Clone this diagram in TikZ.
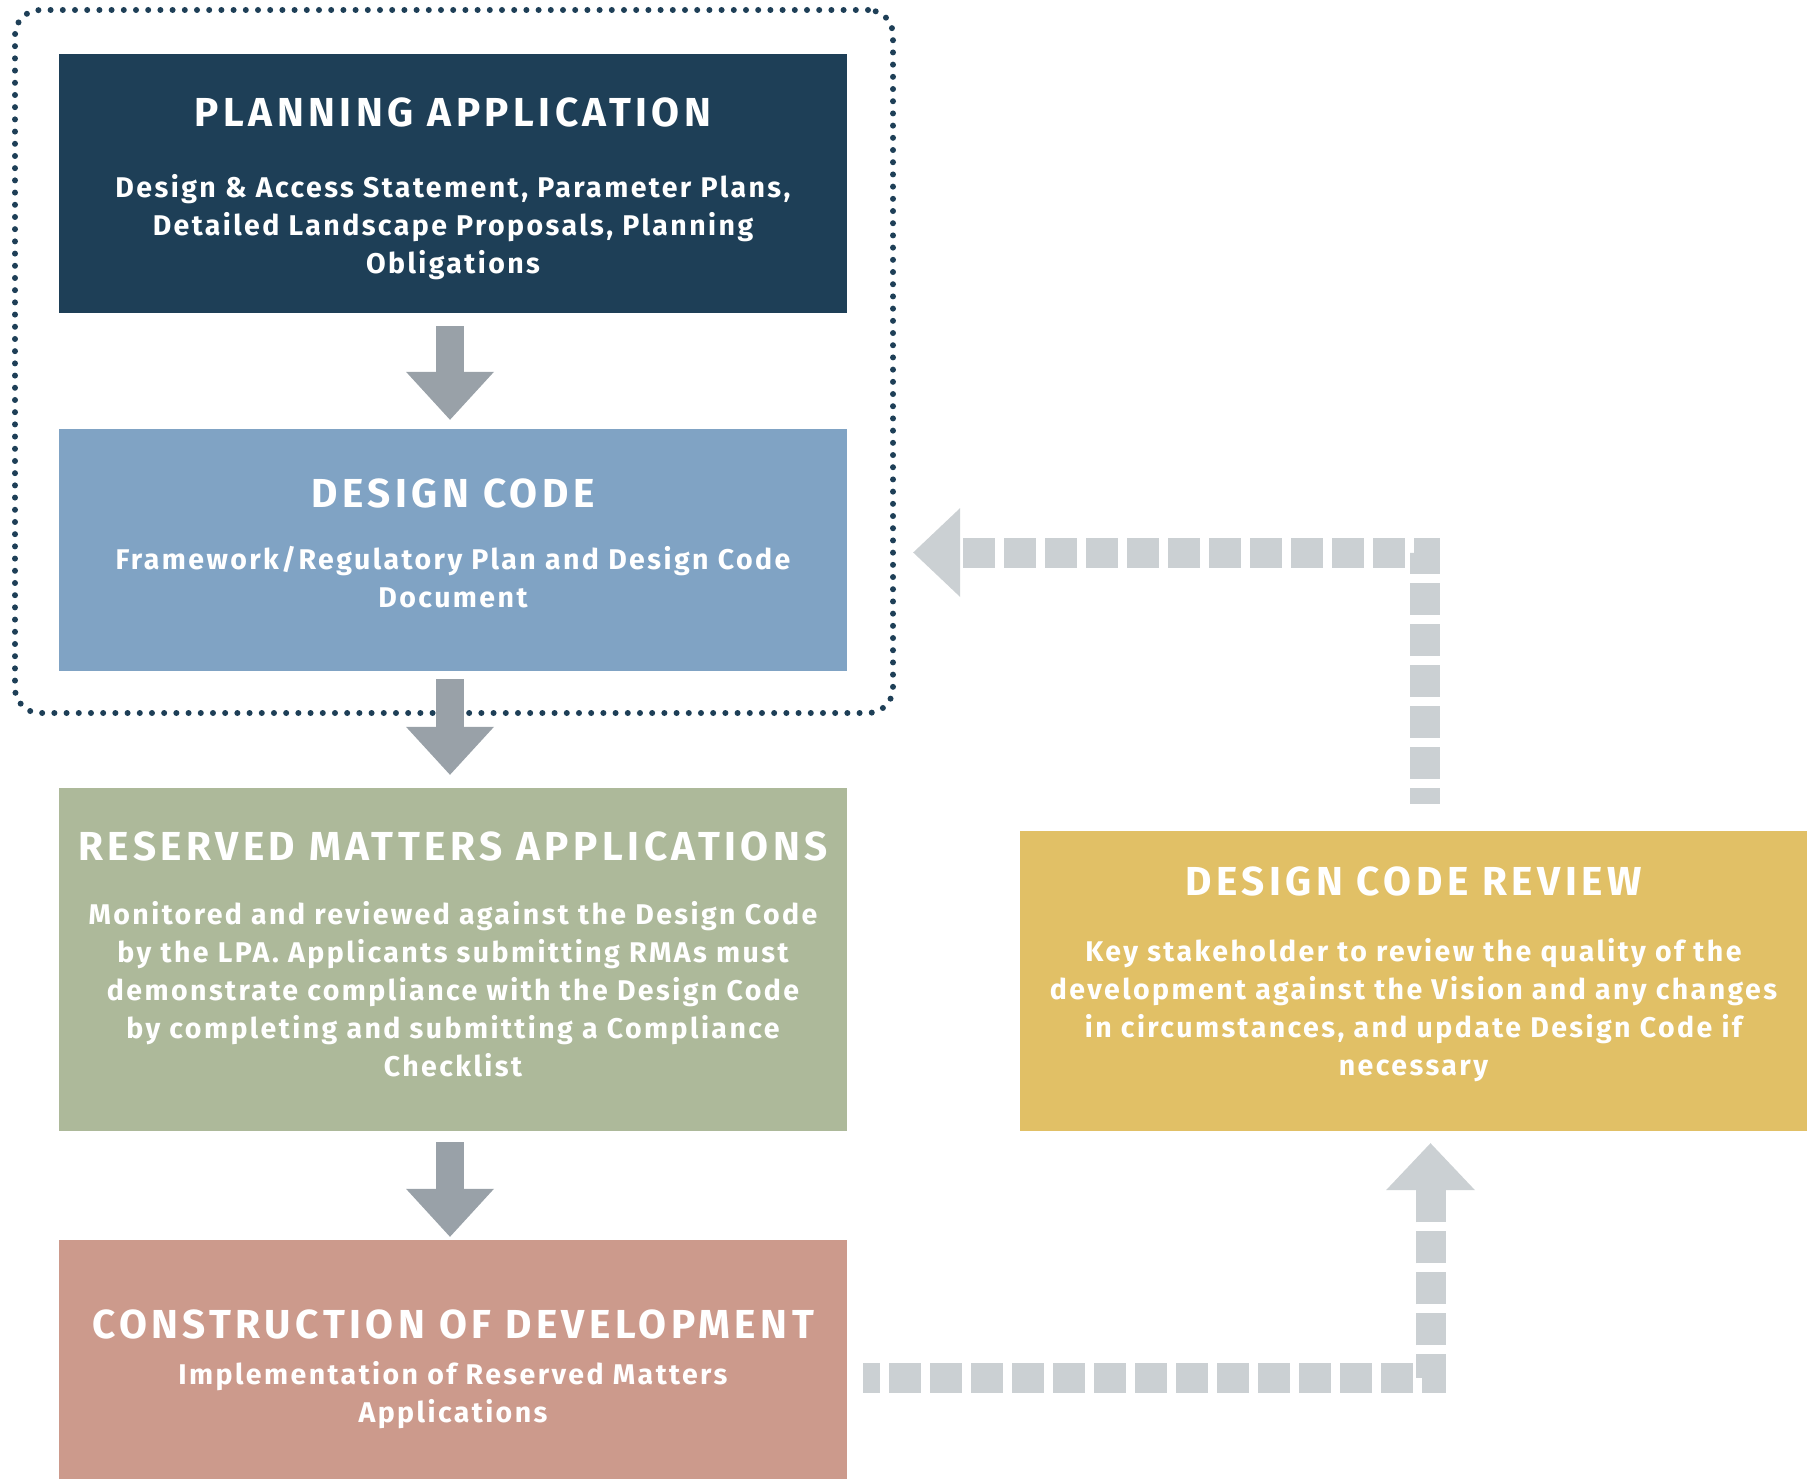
\documentclass[tikz,border=0pt]{standalone}
\usepackage{fontspec}
\setmainfont{Fira Sans}
\newfontfamily\headfont{Fira Sans}[LetterSpace=11]
\newfontfamily\bodyfont{Fira Sans}[LetterSpace=8.5]
\usetikzlibrary{arrows.meta}

\definecolor{navy}{HTML}{1E3F57}
\definecolor{steel}{HTML}{80A3C4}
\definecolor{sage}{HTML}{ADB99A}
\definecolor{mustard}{HTML}{E1C066}
\definecolor{clay}{HTML}{CC9A8C}
\definecolor{flowgray}{HTML}{99A1A8}
\definecolor{loopgray}{HTML}{CBD0D3}

% fixes the height of the first line so that north = baseline - 26pt
\newcommand\firstline{\rule{0pt}{26pt}}

\tikzset{
  panel/.style={draw=none, inner sep=0pt, minimum width=788pt},
  ttl/.style={text=white, inner sep=0pt, anchor=base,
    font=\headfont\bfseries\fontsize{40.5}{40.5}\selectfont},
  txt/.style={text=white, inner sep=0pt, anchor=north, align=center,
    font=\bodyfont\bfseries\fontsize{28.5}{38}\selectfont},
  flow/.style={draw=flowgray, line width=28pt,
    -{Triangle[width=88pt,length=48pt,line width=0pt]}},
  loop/.style={draw=loopgray, line width=30pt,
    dash pattern=on 32pt off 9pt,
    -{Triangle[width=89pt,length=47pt,line width=0pt]}},
}

\begin{document}
\begin{tikzpicture}[x=1pt,y=-1pt]
\useasboundingbox (0,0) rectangle (1815,1479);

% dotted frame round the first two stages
\node[draw=navy, line width=6pt, line cap=round,
      dash pattern=on 0pt off 12.2pt, rounded corners=25pt,
      minimum width=878pt, minimum height=703pt, inner sep=0pt]
      (grp) at (454,361.5) {};

% stage panels
\node[panel, fill=navy,    minimum height=259pt] (pa)  at (453,183.5)  {};
\node[panel, fill=steel,   minimum height=242pt] (dc)  at (453,550)    {};
\node[panel, fill=sage,    minimum height=343pt] (rma) at (453,959.5)  {};
\node[panel, fill=clay,    minimum height=239pt] (cod) at (453,1359.5) {};
\node[panel, fill=mustard, minimum width=787pt, minimum height=300pt]
      (rev) at (1413.5,981) {};

% headings
\node[ttl] (paT)  at (453,127)    {PLANNING APPLICATION};
\node[ttl] (dcT)  at (453,507)    {DESIGN CODE};
\node[ttl] (rmaT) at (453,860)    {RESERVED MATTERS APPLICATIONS};
\node[ttl] (codT) at (453,1338)   {CONSTRUCTION OF DEVELOPMENT};
\node[ttl] (revT) at (1413.5,895) {DESIGN CODE REVIEW};

% descriptions (first baselines: 197, 569, 924, 1384, 961)
\node[txt] (paB) at (453,171) {\firstline Design \& Access Statement, Parameter Plans,\\
  Detailed Landscape Proposals, Planning\\ Obligations};
\node[txt] (dcB) at (453,543) {\firstline Framework/Regulatory Plan and Design Code\\ Document};
\node[txt] (rmaB) at (453,898) {\firstline Monitored and reviewed against the Design Code\\
  by the LPA. Applicants submitting RMAs must\\
  demonstrate compliance with the Design Code\\
  by completing and submitting a Compliance\\ Checklist};
\node[txt] (codB) at (453,1358) {\firstline Implementation of Reserved Matters\\ Applications};
\node[txt] (revB) at (1413.5,935) {\firstline Key stakeholder to review the quality of the\\
  development against the Vision and any changes\\
  in circumstances, and update Design Code if\\ necessary};

% main sequence
\draw[flow, shorten <=13pt, shorten >=9pt]
  ([xshift=-3pt]pa.south) -- ([xshift=-3pt]dc.north);
\draw[flow, shorten <=8pt, shorten >=13pt]
  ([xshift=-3pt]dc.south) -- ([xshift=-3pt]rma.north);
\draw[flow, shorten <=11pt, shorten >=3pt]
  ([xshift=-3pt]rma.south) -- ([xshift=-3pt]cod.north);

% feedback loop
\draw[loop, dash phase=15pt, shorten <=16pt, shorten >=12pt]
  ([yshift=-18.5pt]cod.east) -| ([xshift=17pt]rev.south);
\draw[loop, dash phase=16pt, shorten <=27pt, shorten >=66pt]
  ([xshift=11pt]rev.north) |- ([yshift=-2.5pt]dc.east);
\end{tikzpicture}
\end{document}
